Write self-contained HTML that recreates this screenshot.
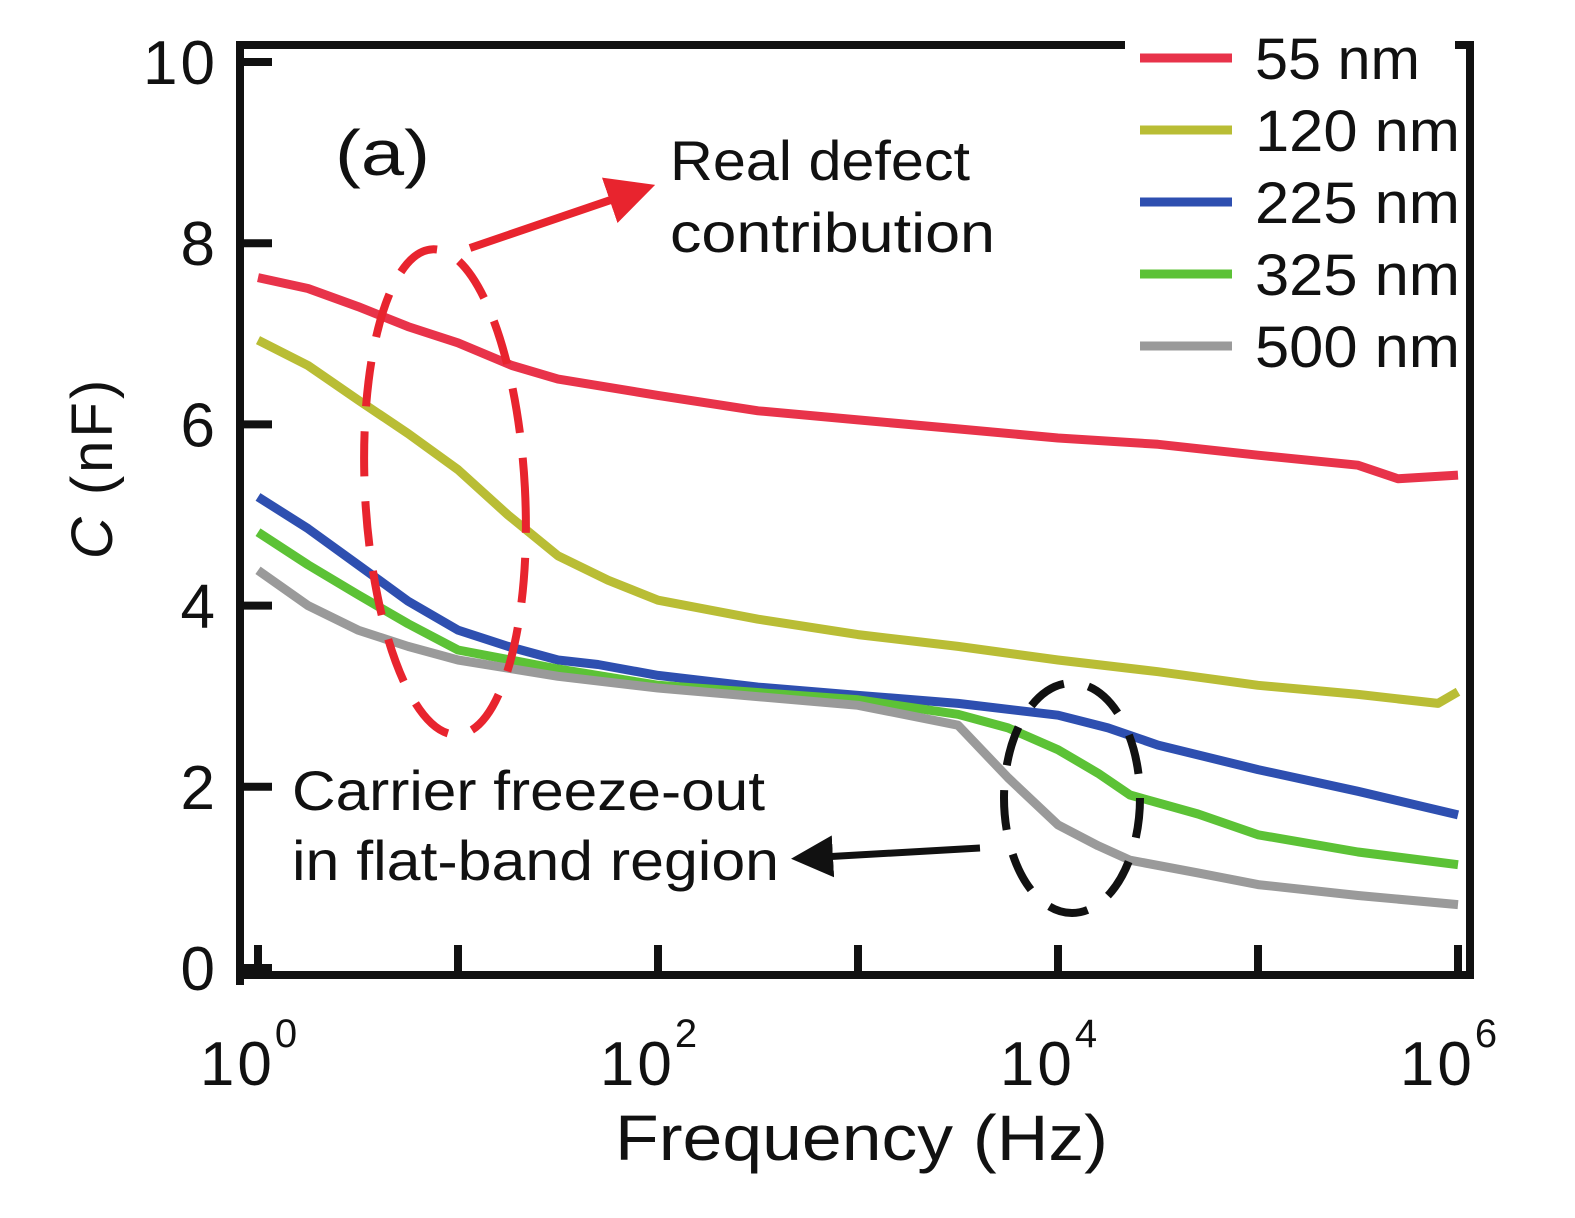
<!DOCTYPE html>
<html><head><meta charset="utf-8"><style>
body{margin:0;background:#fff}
svg text{font-family:"Liberation Sans",sans-serif;fill:#111}
</style></head><body>
<svg width="1575" height="1213" viewBox="0 0 1575 1213" id="chart">
</svg>
<script>
// data
const expo55=[0,0.25,0.5,0.75,1,1.27,1.5,2,2.5,3,3.5,4,4.5,5,5.5,5.7,6];
const val55=[7.62,7.5,7.3,7.08,6.9,6.65,6.5,6.32,6.15,6.05,5.95,5.85,5.78,5.66,5.55,5.4,5.44];
const expo120=[0,0.25,0.5,0.75,1,1.25,1.5,1.75,2,2.5,3,3.5,4,4.5,5,5.5,5.9,6];
const val120=[6.93,6.65,6.27,5.9,5.5,5.0,4.55,4.28,4.06,3.85,3.68,3.55,3.4,3.27,3.12,3.02,2.92,3.05];
const expo225=[0,0.25,0.5,0.75,1,1.25,1.5,1.7,2,2.5,3,3.5,4,4.25,4.5,5,5.5,6];
const val225=[5.2,4.85,4.45,4.05,3.73,3.55,3.4,3.35,3.23,3.1,3.01,2.92,2.79,2.65,2.46,2.19,1.95,1.69];
const expo325=[0,0.25,0.5,0.75,1,1.5,2,3,3.5,3.75,4,4.2,4.36,4.7,5,5.5,6];
const val325=[4.81,4.45,4.12,3.8,3.51,3.3,3.12,2.96,2.8,2.65,2.41,2.15,1.91,1.7,1.47,1.28,1.14];
const expo500=[0,0.25,0.5,0.75,1,1.5,2,3,3.5,3.75,4,4.2,4.36,4.7,5,5.5,6];
const val500=[4.39,4.0,3.73,3.55,3.4,3.22,3.09,2.9,2.68,2.1,1.58,1.35,1.19,1.05,0.92,0.8,0.7];
const yTicks=[0,2,4,6,8,10];
const xTicks=[0,2,4,6];
const legendLabels=["55 nm","120 nm","225 nm","325 nm","500 nm"];
const colors=["#e8334a","#b9bd35","#2e4fb0","#5cc236","#9a9a9a"];

const NS="http://www.w3.org/2000/svg";
const svg=document.getElementById('chart');
const X=e=>258+200*e;
const Y=v=>968-90.6*v;
function mk(tag,attrs,parent){const el=document.createElementNS(NS,tag);for(const k in attrs)el.setAttribute(k,attrs[k]);(parent||svg).appendChild(el);return el;}

const series=[[expo55,val55],[expo120,val120],[expo225,val225],[expo325,val325],[expo500,val500]];
series.forEach((s,i)=>{
  const d=s[0].map((e,j)=>(j?'L':'M')+X(e).toFixed(1)+' '+Y(s[1][j]).toFixed(1)).join(' ');
  const p=mk('path',{d:d,fill:'none',stroke:colors[i],'stroke-width':9,'stroke-linejoin':'round'});
  
  
});

const frame=mk('path',{d:'M240 45 V985 M236 45 H1125 M1455 45 H1474 M1470 45 V978 M236 975 H1474',stroke:'#111','stroke-width':8,fill:'none'});



yTicks.forEach(v=>{
  const t=mk('line',{x1:240,x2:272,y1:Y(v),y2:Y(v),stroke:'#111','stroke-width':8});
  
  
  const l=mk('text',{x:218,y:Y(v)+22,'text-anchor':'end','font-size':62,'letter-spacing':3});
  l.textContent=v;
  
  
});
for(let e=0;e<=6;e++){
  const t=mk('line',{x1:X(e),x2:X(e),y1:975,y2:945,stroke:'#111','stroke-width':8});
  
  
}
xTicks.forEach(e=>{
  const l=mk('text',{x:X(e)-8,y:1085,'text-anchor':'middle','font-size':62,'letter-spacing':3});
  l.textContent='10';
  const s=mk('tspan',{dy:-38,'font-size':40},l);
  s.textContent=e;
  
  
});

legendLabels.forEach((lab,i)=>{
  const y=58+72*i;
  const ln=mk('line',{x1:1140,x2:1232,y1:y,y2:y,stroke:colors[i],'stroke-width':9});
  
  
  const t=mk('text',{x:1255,y:y+21,'font-size':58,textLength:(lab.length===5?165:205),lengthAdjust:'spacingAndGlyphs'});
  t.textContent=lab;
  
  
});
</script>
<svg width="1575" height="1213" style="position:absolute;left:0;top:0">
<defs>
<marker id="ar" markerWidth="6" markerHeight="6" refX="4" refY="3" orient="auto"><path d="M0,0 L6,3 L0,6 z" fill="#e8242e"/></marker>
<marker id="ab" markerWidth="6" markerHeight="6" refX="4" refY="3" orient="auto"><path d="M0,0 L6,3 L0,6 z" fill="#111"/></marker>
</defs>
<text x="615" y="1160" font-size="64" textLength="493" lengthAdjust="spacingAndGlyphs">Frequency (Hz)</text>
<text transform="translate(112 468) rotate(-90)" text-anchor="middle" font-size="58" letter-spacing="3"><tspan font-style="italic">C</tspan> (nF)</text>
<text x="335" y="175" font-size="64" textLength="95" lengthAdjust="spacingAndGlyphs">(a)</text>
<text x="670" y="180" font-size="56" textLength="300" lengthAdjust="spacingAndGlyphs">Real defect</text>
<text x="670" y="252" font-size="56" textLength="325" lengthAdjust="spacingAndGlyphs">contribution</text>
<text x="292" y="810" font-size="56" textLength="473" lengthAdjust="spacingAndGlyphs">Carrier freeze-out</text>
<text x="292" y="880" font-size="56" textLength="487" lengthAdjust="spacingAndGlyphs">in flat-band region</text>
<ellipse cx="445" cy="492" rx="80" ry="243" transform="rotate(-3 445 492)" fill="none" stroke="#e8242e" stroke-width="8" stroke-dasharray="45 25"/>
<ellipse cx="1072" cy="798" rx="68" ry="115" fill="none" stroke="#111" stroke-width="8" stroke-dasharray="40 25"/>
<line x1="470" y1="248" x2="640" y2="190" stroke="#e8242e" stroke-width="8" marker-end="url(#ar)"/>
<line x1="980" y1="848" x2="805" y2="858" stroke="#111" stroke-width="7" marker-end="url(#ab)"/>
</svg>
</body></html>
